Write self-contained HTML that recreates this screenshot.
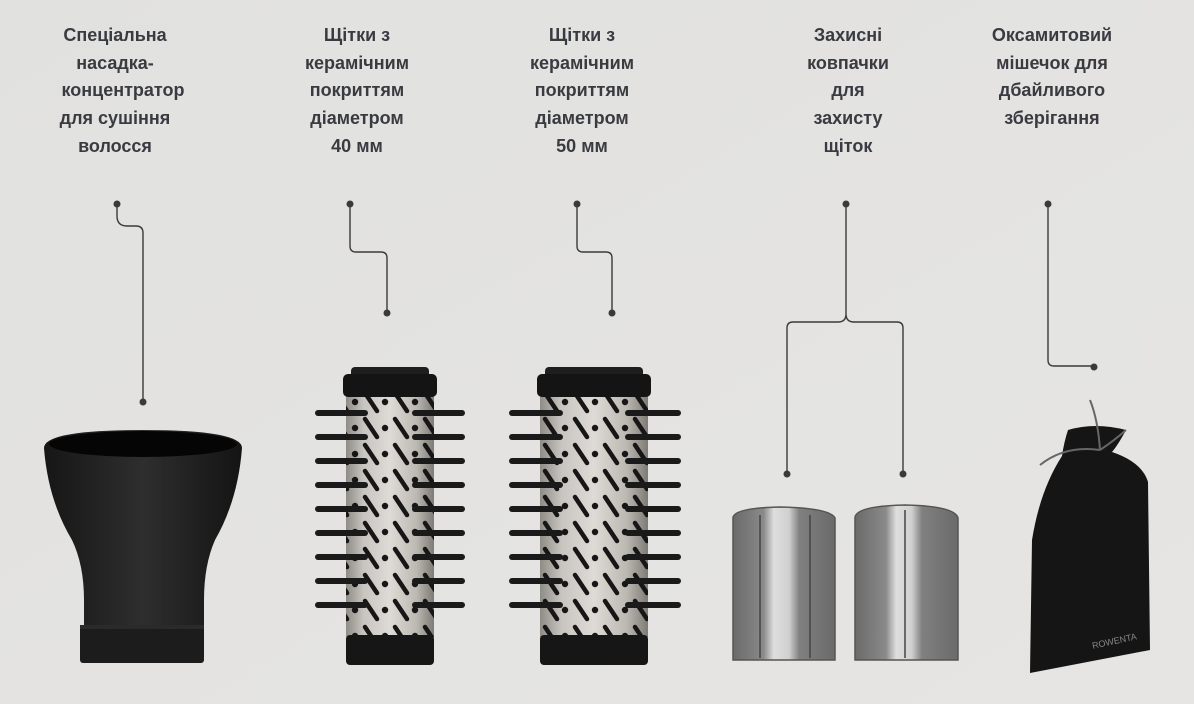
<!DOCTYPE html>
<html><head><meta charset="utf-8"><style>
html,body{margin:0;padding:0;background:#e3e3e1;}
svg{display:block}
text{font-family:"Liberation Sans",Arial,sans-serif;font-weight:bold;font-size:18px;fill:#393b41;text-anchor:middle}
</style></head><body>
<svg width="1194" height="704" viewBox="0 0 1194 704" xmlns="http://www.w3.org/2000/svg">
<defs>
<linearGradient id="bg" x1="0" y1="0" x2="1" y2="1"><stop offset="0" stop-color="#e1e1df"/><stop offset="1" stop-color="#e6e5e3"/></linearGradient>
<linearGradient id="metal" x1="0" x2="1"><stop offset="0" stop-color="#8f8b85"/><stop offset="0.2" stop-color="#c8c5c0"/><stop offset="0.5" stop-color="#dedbd6"/><stop offset="0.8" stop-color="#bcb8b2"/><stop offset="1" stop-color="#7e7a75"/></linearGradient>
<linearGradient id="blk" x1="0" x2="1"><stop offset="0" stop-color="#161616"/><stop offset="0.5" stop-color="#2e2e2e"/><stop offset="1" stop-color="#141414"/></linearGradient>
<linearGradient id="cap" x1="0" x2="1"><stop offset="0" stop-color="#6a6a6a"/><stop offset="0.3" stop-color="#8a8a8a"/><stop offset="0.4" stop-color="#dedede"/><stop offset="0.55" stop-color="#d0d0d0"/><stop offset="0.65" stop-color="#808080"/><stop offset="1" stop-color="#6a6a6a"/></linearGradient>
<pattern id="holes" width="30" height="26" patternUnits="userSpaceOnUse">
<line x1="5" y1="3" x2="17" y2="21" stroke="#161616" stroke-width="4.5" stroke-linecap="round"/>
<circle cx="25" cy="12" r="3.2" fill="#161616"/>
</pattern>
</defs>
<rect width="1194" height="704" fill="url(#bg)"/>

<g>
<text x="115" y="41">Спеціальна</text><text x="115" y="69">насадка-</text><text x="123" y="96">концентратор</text><text x="115" y="124">для сушіння</text><text x="115" y="152">волосся</text>
<text x="357" y="41">Щітки з</text><text x="357" y="69">керамічним</text><text x="357" y="96">покриттям</text><text x="357" y="124">діаметром</text><text x="357" y="152">40 мм</text>
<text x="582" y="41">Щітки з</text><text x="582" y="69">керамічним</text><text x="582" y="96">покриттям</text><text x="582" y="124">діаметром</text><text x="582" y="152">50 мм</text>
<text x="848" y="41">Захисні</text><text x="848" y="69">ковпачки</text><text x="848" y="96">для</text><text x="848" y="124">захисту</text><text x="848" y="152">щіток</text>
<text x="1052" y="41">Оксамитовий</text><text x="1052" y="69">мішечок для</text><text x="1052" y="96">дбайливого</text><text x="1052" y="124">зберігання</text>
</g>

<g stroke="#3a3a3a" stroke-width="1.4" fill="none">
<path d="M117 204 V216 Q117 226 127 226 H136 Q143 226 143 233 V402"/>
<path d="M350 204 V246 Q350 252 356 252 H381 Q387 252 387 258 V313"/>
<path d="M577 204 V246 Q577 252 583 252 H606 Q612 252 612 258 V313"/>
<path d="M846 204 V314 Q846 322 838 322 H793 Q787 322 787 328 V474 M846 314 Q846 322 854 322 H897 Q903 322 903 328 V474"/>
<path d="M1048 204 V360 Q1048 366 1054 366 H1094"/>
</g>
<g fill="#3a3a3a">
<circle cx="117" cy="204" r="3.5"/><circle cx="143" cy="402" r="3.5"/>
<circle cx="350" cy="204" r="3.5"/><circle cx="387" cy="313" r="3.5"/>
<circle cx="577" cy="204" r="3.5"/><circle cx="612" cy="313" r="3.5"/>
<circle cx="846" cy="204" r="3.5"/><circle cx="787" cy="474" r="3.5"/><circle cx="903" cy="474" r="3.5"/>
<circle cx="1048" cy="204" r="3.5"/><circle cx="1094" cy="367" r="3.5"/>
</g>

<!-- concentrator -->
<path d="M44 448 Q44 430 143 430 Q242 430 242 448 Q238 500 215 540 Q204 565 204 600 V628 H84 V600 Q84 565 72 540 Q48 500 44 448 Z" fill="url(#blk)"/>
<ellipse cx="143" cy="444" rx="94" ry="13" fill="#050505"/>
<rect x="80" y="625" width="124" height="38" rx="3" fill="#1c1c1c"/>
<rect x="80" y="625" width="124" height="4" fill="#2a2a2a"/>

<!-- brush 1 -->
<g>
<rect x="346" y="395" width="88" height="242" fill="url(#metal)"/>
<rect x="346" y="395" width="88" height="242" fill="url(#holes)"/>
<g stroke="#1a1a1a" stroke-width="6" stroke-linecap="round">
<line x1="318" y1="413" x2="365" y2="413"/><line x1="415" y1="413" x2="462" y2="413"/>
<line x1="318" y1="437" x2="365" y2="437"/><line x1="415" y1="437" x2="462" y2="437"/>
<line x1="318" y1="461" x2="365" y2="461"/><line x1="415" y1="461" x2="462" y2="461"/>
<line x1="318" y1="485" x2="365" y2="485"/><line x1="415" y1="485" x2="462" y2="485"/>
<line x1="318" y1="509" x2="365" y2="509"/><line x1="415" y1="509" x2="462" y2="509"/>
<line x1="318" y1="533" x2="365" y2="533"/><line x1="415" y1="533" x2="462" y2="533"/>
<line x1="318" y1="557" x2="365" y2="557"/><line x1="415" y1="557" x2="462" y2="557"/>
<line x1="318" y1="581" x2="365" y2="581"/><line x1="415" y1="581" x2="462" y2="581"/>
<line x1="318" y1="605" x2="365" y2="605"/><line x1="415" y1="605" x2="462" y2="605"/>
</g>
<rect x="351" y="367" width="78" height="12" rx="4" fill="#1e1e1e"/>
<rect x="343" y="374" width="94" height="23" rx="5" fill="#141414"/>
<rect x="346" y="635" width="88" height="30" rx="4" fill="#161616"/>
</g>

<!-- brush 2 -->
<g>
<rect x="540" y="395" width="108" height="242" fill="url(#metal)"/>
<rect x="540" y="395" width="108" height="242" fill="url(#holes)"/>
<g stroke="#1a1a1a" stroke-width="6" stroke-linecap="round">
<line x1="512" y1="413" x2="560" y2="413"/><line x1="628" y1="413" x2="678" y2="413"/>
<line x1="512" y1="437" x2="560" y2="437"/><line x1="628" y1="437" x2="678" y2="437"/>
<line x1="512" y1="461" x2="560" y2="461"/><line x1="628" y1="461" x2="678" y2="461"/>
<line x1="512" y1="485" x2="560" y2="485"/><line x1="628" y1="485" x2="678" y2="485"/>
<line x1="512" y1="509" x2="560" y2="509"/><line x1="628" y1="509" x2="678" y2="509"/>
<line x1="512" y1="533" x2="560" y2="533"/><line x1="628" y1="533" x2="678" y2="533"/>
<line x1="512" y1="557" x2="560" y2="557"/><line x1="628" y1="557" x2="678" y2="557"/>
<line x1="512" y1="581" x2="560" y2="581"/><line x1="628" y1="581" x2="678" y2="581"/>
<line x1="512" y1="605" x2="560" y2="605"/><line x1="628" y1="605" x2="678" y2="605"/>
</g>
<rect x="545" y="367" width="98" height="12" rx="4" fill="#1e1e1e"/>
<rect x="537" y="374" width="114" height="23" rx="5" fill="#141414"/>
<rect x="540" y="635" width="108" height="30" rx="4" fill="#161616"/>
</g>

<!-- protective caps -->
<path d="M733 518 Q733 508 780 507 Q830 508 835 518 V660 H733 Z" fill="url(#cap)" stroke="#555" stroke-width="1.5"/>
<line x1="760" y1="515" x2="760" y2="658" stroke="#444" stroke-width="1.5"/>
<line x1="810" y1="515" x2="810" y2="658" stroke="#444" stroke-width="1.5"/>
<path d="M855 518 Q855 506 905 505 Q955 506 958 518 V660 H855 Z" fill="url(#cap)" stroke="#555" stroke-width="1.5"/>
<line x1="905" y1="510" x2="905" y2="658" stroke="#444" stroke-width="1.5"/>

<!-- bag -->
<path d="M1068 430 Q1095 422 1126 430 Q1118 445 1112 452 Q1142 462 1148 482 L1150 650 L1030 673 L1032 540 Q1040 490 1062 456 Q1064 442 1068 430 Z" fill="#151515"/>
<path d="M1040 465 Q1065 445 1100 450 M1090 400 Q1098 420 1100 450 M1100 450 Q1115 440 1126 430" stroke="#666" stroke-width="2" fill="none"/>
<text x="1115" y="644" transform="rotate(-12 1115 644)" style="font-size:9px;fill:#888;font-weight:normal">ROWENTA</text>
</svg>
</body></html>
